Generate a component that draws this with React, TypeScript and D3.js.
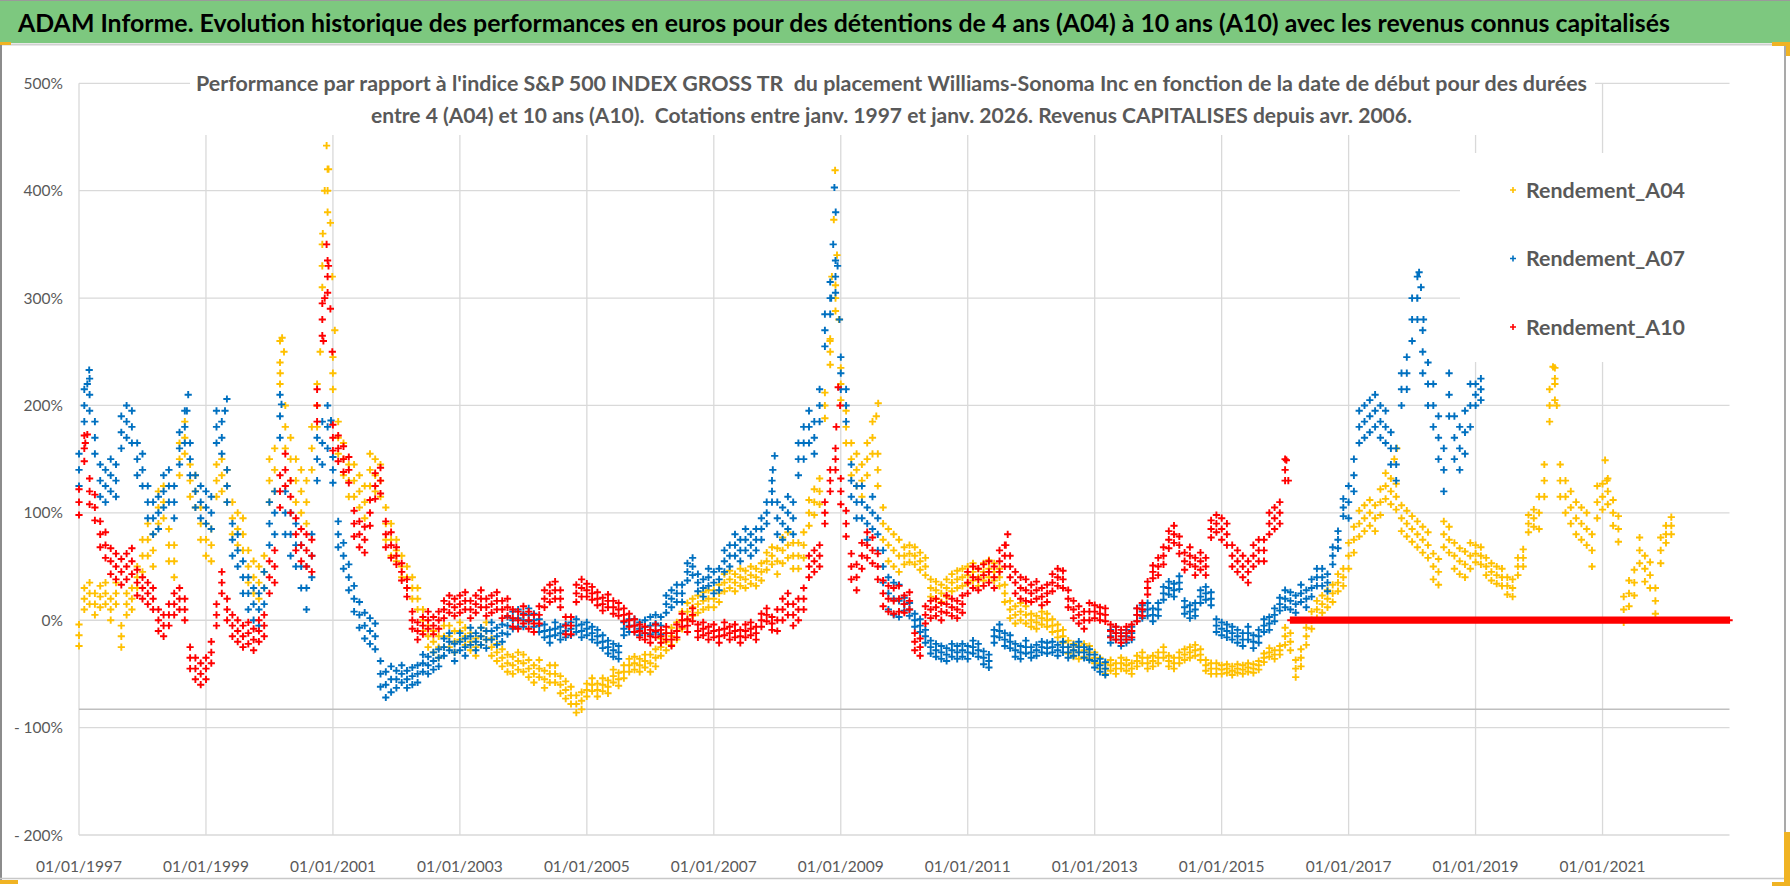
import React from 'react';
import * as d3 from 'd3';

const W = 1790;
const H = 886;

// Monthly values (in %) starting January 1997
const SERIES_START = 1997;

const A04 = [
  -14, 20, 25, 15, 22, 25, 10, 25, -15, 15, 20, 40,
  60, 75, 65, 105, 110, 70, 55, 150, 170, 130, 120, 90,
  75, 70, 130, 135, 125, 95, 85, 80, 50, 40, 35, 45,
  130, 140, 240, 180, 150, 130, 120, 110, 160, 200, 330, 400,
  230, 170, 150, 130, 130, 120, 110, 140, 135, 130, 90, 75,
  65, 50, 40, 30, 20, 0, -15, -20, -25, -15, -15, -20,
  -10, -15, -20, -25, -15, -10, -25, -30, -35, -40, -42, -38,
  -40, -45, -50, -45, -55, -50, -50, -60, -65, -70, -78, -75,
  -65, -60, -65, -60, -62, -52, -55, -48, -42, -40, -42, -38,
  -40, -35, -25, -20, -15, -10, 0, 8, 12, 15, 18, 20,
  20, 25, 35, 38, 35, 40, 38, 42, 40, 45, 55, 60,
  55, 65, 70, 60, 60, 70, 100, 110, 120, 200, 250, 300,
  220, 180, 150, 140, 130, 150, 170, 140, 90, 70, 65, 60,
  60, 62, 60, 55, 50, 30, 28, 25, 30, 35, 38, 40,
  42, 45, 40, 45, 48, 45, 40, 25, 10, 5, 8, 5,
  0, -2, 2, 0, -5, -10, -15, -25, -28, -30, -28, -30,
  -35, -40, -45, -42, -45, -40, -42, -45, -38, -35, -40, -38,
  -35, -30, -38, -40, -35, -32, -30, -28, -32, -42, -45, -45,
  -46, -45, -47, -45, -46, -44, -45, -42, -35, -30, -32, -28,
  -15, -20, -45, -35, -15, 0, 10, 15, 20, 25, 35, 40,
  60, 75, 90, 95, 100, 95, 110, 125, 120, 115, 95, 90,
  85, 80, 75, 70, 50, 45, 80, 75, 60, 55, 52, 60,
  62, 60, 50, 45, 42, 40, 32, 30, 50, 58, 90, 95,
  100, 130, 200, 220, 130, 115, 105, 95, 90, 85, 65, 110,
  115, 120, 100, 85, 10, 25, 35, 65, 48, 42, 18, 65,
  80, 88,
];

const A07 = [
  140, 200, 210, 170, 130, 125, 135, 130, 175, 185, 180, 150,
  140, 110, 95, 100, 120, 125, 110, 160, 180, 150, 120, 110,
  105, 100, 180, 170, 125, 75, 65, 40, 25, 15, 10, 30,
  90, 100, 190, 100, 80, 70, 50, 30, 60, 150, 165, 180,
  140, 80, 60, 40, 20, 5, -5, -10, -15, -50, -60, -55,
  -55, -50, -55, -52, -50, -40, -42, -38, -35, -25, -20, -30,
  -20, -25, -15, -20, -15, -18, -10, -15, -12, -5, 0, 2,
  0, 5, 0, -5, -10, -15, -8, -12, -10, -8, -5, -10,
  -8, -12, -15, -20, -25, -28, -30, -8, -5, -5, -8, -6,
  -5, -3, -5, 15, 20, 25, 25, 45, 50, 35, 30, 40,
  35, 38, 55, 60, 70, 65, 75, 70, 75, 85, 100, 120,
  95, 90, 100, 95, 150, 165, 180, 170, 200, 270, 300, 320,
  230, 200, 130, 110, 110, 90, 100, 80, 50, 25, 20, 18,
  15, 10, 0, -5, -15, -25, -28, -30, -32, -28, -30, -28,
  -30, -25, -28, -35, -38, -15, -10, -18, -20, -28, -30, -25,
  -30, -28, -25, -26, -25, -28, -25, -30, -28, -25, -30, -32,
  -38, -42, -45, -15, -12, -18, -15, -12, 5, 8, 10, 5,
  10, 25, 30, 28, 35, 12, 8, 10, 22, 25, 20, -5,
  -8, -10, -12, -15, -18, -12, -20, -15, -5, -3, 5, 15,
  20, 18, 15, 25, 20, 30, 40, 40, 35, 60, 75, 105,
  110, 135, 180, 185, 190, 195, 185, 180, 160, 145, 215, 230,
  280, 300, 250, 220, 200, 170, 140, 210, 170, 160, 175, 200,
  210, 215,
];

// A10 monthly values until January 2016; after that the series is flat at 0
const A10 = [
  110, 160, 120, 105, 80, 70, 55, 50, 45, 50, 55, 35,
  30, 25, 20, 0, -5, 5, 15, 20, 10, -35, -45, -50,
  -45, -30, 5, 35, 10, -5, -10, -15, -12, -18, -10, -5,
  40, 50, 120, 140, 115, 80, 70, 65, 60, 200, 280, 320,
  170, 160, 150, 140, 90, 80, 75, 100, 125, 130, 80, 70,
  60, 45, 30, 0, -10, -5, 0, -5, 0, 10, 15, 12,
  15, 18, 10, 15, 20, 12, 15, 18, 10, 12, 2, 0,
  5, 0, -3, 5, 20, 25, 28, 20, -5, -5, 25, 30,
  28, 25, 20, 15, 18, 12, 10, 5, 0, -5, -10, -12,
  -15, -10, -15, -12, -18, -10, 0, -5, 5, -10, -8, -12,
  -10, -15, -8, -12, -10, -15, -10, -8, -12, 0, 5, -3,
  0, 10, 15, 5, 10, 20, 50, 55, 60, 100, 130, 150,
  120, 90, 50, 40, 60, 70, 65, 50, 25, 20, 18, 20,
  15, 18, -20, -25, 5, 10, 12, 8, 15, 12, 10, 15,
  35, 40, 38, 42, 45, 40, 55, 60, 50, 35, 30, 28,
  25, 28, 22, 25, 35, 40, 38, 20, 10, 5, 0, 8,
  8, 6, 5, -10, -12, -15, -12, -10, 5, 10, 30, 45,
  50, 60, 75, 80, 70, 55, 60, 50, 55, 50, 85, 90,
  85, 80, 60, 55, 50, 45, 60, 65, 65, 90, 95, 100,
  140,
];
const A10_FLAT_FROM = 2016.09;
const A10_FLAT_TO = 2023.0;
const A10_FLAT_VALUE = 0;

// Band half-thickness (in %) of each series cloud, read year by year
const A04_SPREAD = [10, 15, 15, 20, 15, 10, 8, 8, 6, 8, 8, 12, 15, 8, 8, 6, 5, 5, 4, 8, 12, 12, 8, 15, 12, 8];
const A07_SPREAD = [15, 15, 15, 20, 12, 8, 8, 6, 6, 8, 10, 15, 15, 6, 6, 5, 6, 6, 6, 8, 15, 20, 10];
const A10_SPREAD = [12, 10, 10, 15, 12, 8, 8, 8, 6, 6, 6, 10, 12, 8, 10, 8, 6, 8, 10, 10];

// Extra observations on the short-lived spikes: [decimal year, %]
const A04_PEAKS: [number, number][] = [
  [2000.17, 230], [2000.2, 263], [2000.23, 250], [2000.8, 250], [2000.84, 360],
  [2000.87, 400], [2000.9, 442], [2000.93, 420], [2000.96, 370], [2000.99, 320],
  [2001.03, 270], [2008.83, 260], [2008.86, 320], [2008.89, 373], [2008.91, 419],
  [2008.94, 340], [2008.97, 280], [2009.56, 190], [2009.59, 202], [2017.72, 150],
  [2017.76, 160], [2020.22, 236], [2020.25, 225], [2020.28, 200], [2021.04, 149],
  [2021.07, 130],
];
const A07_PEAKS: [number, number][] = [
  [1997.13, 220], [1997.16, 233], [1998.7, 195], [1998.72, 210], [1999.3, 195],
  [1999.33, 206], [2000.19, 201], [2000.97, 186], [2007.93, 140], [2007.96, 153],
  [2008.85, 300], [2008.88, 350], [2008.9, 403], [2008.92, 380], [2008.95, 330],
  [2008.98, 280], [2018.08, 300], [2018.11, 324], [2018.14, 310], [2018.18, 280],
];
const A10_PEAKS: [number, number][] = [
  [1997.1, 165], [1997.13, 173], [2000.85, 260], [2000.87, 300], [2000.9, 350],
  [2000.93, 330], [2000.96, 290], [2000.99, 250], [2008.93, 180], [2008.96, 217],
  [2008.99, 200], [2011.6, 70], [2011.63, 80], [2016.02, 149], [2016.05, 130],
];

const SERIES_NAMES = ['Rendement_A04', 'Rendement_A07', 'Rendement_A10'];
const SERIES_COLORS = ['#FFC000', '#0070C0', '#FF0000'];

const X_TICK_YEARS = [1997, 1999, 2001, 2003, 2005, 2007, 2009, 2011, 2013, 2015, 2017, 2019, 2021];
const Y_TICKS = [500, 400, 300, 200, 100, 0, -100, -200];
const AXIS_CROSS = -83;

const TITLE =
  'ADAM Informe. Evolution historique des performances en euros pour des détentions de 4 ans (A04) à 10 ans (A10) avec les revenus connus capitalisés';
const SUB1 =
  "Performance par rapport à l'indice S&P 500 INDEX GROSS TR  du placement Williams-Sonoma Inc en fonction de la date de début pour des durées";
const SUB2 =
  'entre 4 (A04) et 10 ans (A10).  Cotations entre janv. 1997 et janv. 2026. Revenus CAPITALISES depuis avr. 2006.';

const FONT = 'Lato, "Open Sans", sans-serif';

function fmtPct(v: number) {
  return v < 0 ? `- ${Math.abs(v)}%` : `${v}%`;
}

export default function App() {
  const x = d3.scaleLinear().domain([1997, 2023]).range([79, 1729.5]);
  const y = d3.scaleLinear().domain([-200, 500]).range([835, 83.3]);

  const toPts = (vals: number[], spread: number[], extra: [number, number][]) => {
    const p: [number, number][] = [];
    vals.forEach((v, i) => {
      const t = SERIES_START + i / 12;
      const sp = spread[Math.floor(i / 12)] ?? 0;
      p.push([t, v]);
      if (sp > 0) {
        p.push([t, v + sp]);
        p.push([t, v - sp]);
      }
    });
    return p.concat(extra);
  };

  const flat: [number, number][] = d3
    .range(A10_FLAT_FROM, A10_FLAT_TO + 1e-9, 1 / 52)
    .map((t) => [t, A10_FLAT_VALUE] as [number, number]);

  const series = [
    toPts(A04, A04_SPREAD, A04_PEAKS),
    toPts(A07, A07_SPREAD, A07_PEAKS),
    toPts(A10, A10_SPREAD, A10_PEAKS).concat(flat),
  ];

  const s = 3.6;
  const plusPath = (pts: [number, number][]) =>
    pts
      .map(([t, v]) => {
        const px = x(t);
        const py = y(v);
        return `M${(px - s).toFixed(1)},${py.toFixed(1)}h${2 * s}M${px.toFixed(1)},${(py - s).toFixed(1)}v${2 * s}`;
      })
      .join('');

  const gridColor = '#D9D9D9';
  const textColor = '#595959';
  const [x0, x1] = x.range();

  return (
    <svg
      width={W}
      height={H}
      viewBox={`0 0 ${W} ${H}`}
      style={{ position: 'absolute', left: 0, top: 0, background: '#fff' }}
    >
      {/* title band */}
      <rect x={0} y={0} width={W} height={43} fill="#7DC87F" />
      <line x1={0} y1={0.5} x2={W} y2={0.5} stroke="#9a9a9a" />
      <line x1={0} y1={44.5} x2={1772} y2={44.5} stroke="#D0D0D0" strokeWidth={2} />
      <text
        x={18}
        y={32}
        fontFamily={FONT}
        fontWeight={700}
        fontSize={25}
        fill="#000"
        textLength={1652}
        lengthAdjust="spacingAndGlyphs"
      >
        {TITLE}
      </text>

      {/* chart frame */}
      <line x1={1} y1={43} x2={1} y2={880} stroke="#8c8c8c" strokeWidth={2} />
      <line x1={1785} y1={43} x2={1785} y2={880} stroke="#8c8c8c" strokeWidth={1.5} />
      <line x1={0} y1={878.5} x2={1786} y2={878.5} stroke="#c8c8c8" strokeWidth={1.5} />
      <rect x={0} y={42} width={11} height={3} fill="#F0B323" />
      <rect x={1772} y={42} width={18} height={4} fill="#F0B323" />
      <rect x={1786} y={42} width={4} height={14} fill="#F0B323" />
      <rect x={0} y={880} width={18} height={4} fill="#F0B323" />
      <rect x={1784} y={832} width={6} height={54} fill="#F0B323" />
      <rect x={1772} y={882} width={18} height={4} fill="#F0B323" />

      {/* gridlines */}
      {Y_TICKS.map((t) => (
        <line key={'h' + t} x1={x0} x2={x1} y1={y(t)} y2={y(t)} stroke={gridColor} strokeWidth={1.3} />
      ))}
      {X_TICK_YEARS.map((t) => (
        <line key={'v' + t} x1={x(t)} x2={x(t)} y1={y(500)} y2={y(-200)} stroke={gridColor} strokeWidth={1.3} />
      ))}
      <line x1={x0} x2={x1} y1={y(AXIS_CROSS)} y2={y(AXIS_CROSS)} stroke="#BFBFBF" strokeWidth={1.5} />

      {/* white boxes of subtitle and legend */}
      <rect x={190} y={52} width={1405} height={83} fill="#fff" />
      <rect x={1460} y={153} width={270} height={209} fill="#fff" />

      {/* data */}
      {series.map((pts, i) => (
        <path key={i} d={plusPath(pts)} stroke={SERIES_COLORS[i]} strokeWidth={1.9} fill="none" />
      ))}

      {/* y axis labels */}
      {Y_TICKS.map((t) => (
        <text
          key={'yl' + t}
          x={63}
          y={y(t) + 5.5}
          textAnchor="end"
          fontFamily={FONT}
          fontSize={15.5}
          fill={textColor}
        >
          {fmtPct(t)}
        </text>
      ))}
      {/* x axis labels */}
      {X_TICK_YEARS.map((t) => (
        <text
          key={'xl' + t}
          x={x(t)}
          y={872}
          textAnchor="middle"
          fontFamily={FONT}
          fontSize={15.5}
          fill={textColor}
        >
          {`01/01/${t}`}
        </text>
      ))}

      {/* subtitle */}
      <text
        x={196}
        y={91}
        fontFamily={FONT}
        fontWeight={700}
        fontSize={20}
        fill={textColor}
        textLength={1391}
        lengthAdjust="spacingAndGlyphs"
        style={{ whiteSpace: 'pre' }}
      >
        {SUB1}
      </text>
      <text
        x={371}
        y={123}
        fontFamily={FONT}
        fontWeight={700}
        fontSize={20}
        fill={textColor}
        textLength={1041}
        lengthAdjust="spacingAndGlyphs"
        style={{ whiteSpace: 'pre' }}
      >
        {SUB2}
      </text>

      {/* legend */}
      {SERIES_NAMES.map((name, i) => {
        const ly = 190 + i * 68.5;
        return (
          <g key={name}>
            <path d={`M1510,${ly}h6M1513,${ly - 3}v6`} stroke={SERIES_COLORS[i]} strokeWidth={1.6} />
            <text
              x={1526}
              y={ly + 7.5}
              fontFamily={FONT}
              fontWeight={700}
              fontSize={21}
              fill={textColor}
              textLength={159}
              lengthAdjust="spacingAndGlyphs"
            >
              {name}
            </text>
          </g>
        );
      })}
    </svg>
  );
}
